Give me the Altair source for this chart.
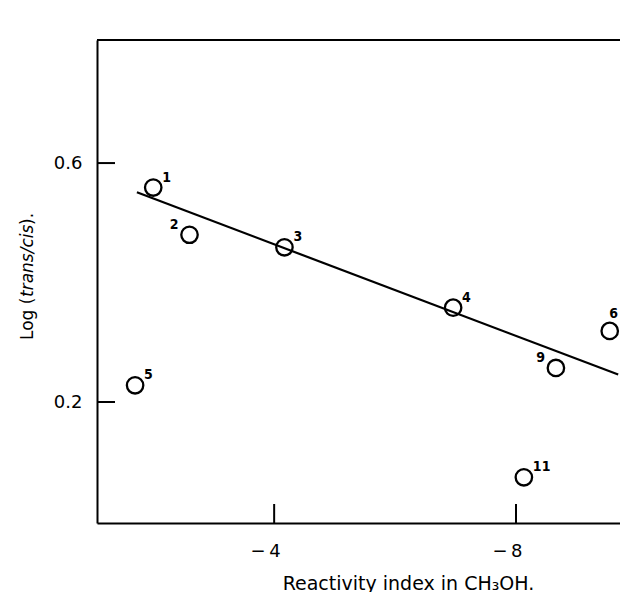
import altair as alt
import pandas as pd

# data
labels = ["1", "2", "3", "4", "5", "6", "9", "11"]
reactivity = [-2.0, -2.6, -4.17, -6.96, -1.70, -9.55, -8.66, -8.13]
log_ratio = [0.559, 0.480, 0.459, 0.358, 0.228, 0.319, 0.257, 0.074]
left_labels = ["2", "9"]
top_labels = ["6"]  # would be cut at the right edge otherwise

fit_x = [-1.73, -9.69]
fit_y = [0.551, 0.246]

x_ticks = [-4, -8]
y_ticks = [0.2, 0.6]

x_domain = [-9.72, -1.07]
y_domain = [-0.0025, 0.806]

W, H = 523, 483
FONT = "DejaVu Sans"

pts = pd.DataFrame({"x": reactivity, "y": log_ratio, "label": labels})
fit = pd.DataFrame({"x": fit_x, "y": fit_y})
xt = pd.DataFrame({"x": x_ticks})
yt = pd.DataFrame({"y": y_ticks})

xs = alt.Scale(domain=x_domain, reverse=True, nice=False, zero=False)
ys = alt.Scale(domain=y_domain, nice=False, zero=False)

x_axis = alt.Axis(values=x_ticks, ticks=False, grid=False, domainColor="black",
                  domainWidth=2, labelFont=FONT, labelFontSize=18, labelColor="black",
                  labelPadding=19, labelOffset=-9,
                  labelExpr="datum.value < 0 ? '\u2212\u2009' + abs(datum.value) : datum.label",
                  title="Reactivity index in CH\u2083OH.", titleFont=FONT, titleFontSize=19,
                  titleFontWeight="normal", titleColor="black",
                  titleBaseline="alphabetic", titleX=311, titleY=66)
y_axis = alt.Axis(values=y_ticks, ticks=False, grid=False, domainColor="black",
                  domainWidth=2, labelFont=FONT, labelFontSize=18, labelColor="black",
                  labelPadding=15, format=".1f", title=None)

base = alt.Chart(pts)

points = base.mark_point(shape="circle", filled=False, color="black",
                         strokeWidth=2.3, size=270, opacity=1).encode(
    x=alt.X("x:Q", scale=xs, axis=x_axis),
    y=alt.Y("y:Q", scale=ys, axis=y_axis),
)

lab_style = dict(font=FONT + " Condensed", fontWeight="bold", fontSize=14, color="black",
                 baseline="middle")
enc = dict(x=alt.X("x:Q", scale=xs), y=alt.Y("y:Q", scale=ys), text="label:N")
right_lab = base.transform_filter(
    ~alt.FieldOneOfPredicate(field="label", oneOf=left_labels + top_labels)
).mark_text(align="left", dx=9, dy=-10, **lab_style).encode(**enc)
left_lab = base.transform_filter(
    alt.FieldOneOfPredicate(field="label", oneOf=left_labels)
).mark_text(align="right", dx=-11, dy=-10, **lab_style).encode(**enc)
top_lab = base.transform_filter(
    alt.FieldOneOfPredicate(field="label", oneOf=top_labels)
).mark_text(align="center", dx=4, dy=-17, **lab_style).encode(**enc)

line = alt.Chart(fit).mark_line(color="black", strokeWidth=2.2).encode(
    x=alt.X("x:Q", scale=xs), y=alt.Y("y:Q", scale=ys))

xtick = alt.Chart(xt).mark_rule(color="black", strokeWidth=2).encode(
    x=alt.X("x:Q", scale=xs), y=alt.value(H), y2=alt.value(H - 19))
ytick = alt.Chart(yt).mark_rule(color="black", strokeWidth=2).encode(
    y=alt.Y("y:Q", scale=ys), x=alt.value(0), x2=alt.value(18))

top = alt.Chart(xt).mark_rule(color="black", strokeWidth=2).encode(
    x=alt.value(0), x2=alt.value(W), y=alt.value(0))

one = alt.Data(values=[{"a": 1}])
tstyle = dict(font=FONT, fontSize=17, color="black", angle=270, align="left",
              baseline="alphabetic")
t1 = alt.Chart(one).mark_text(text="Log (", **tstyle).encode(
    x=alt.value(-64), y=alt.value(300))
t2 = alt.Chart(one).mark_text(text="trans/cis", fontStyle="italic", **tstyle).encode(
    x=alt.value(-64), y=alt.value(257))
t3 = alt.Chart(one).mark_text(text=").", **tstyle).encode(
    x=alt.value(-64), y=alt.value(185))

chart = alt.layer(line, points, right_lab, left_lab, top_lab, xtick, ytick, top,
                  t1, t2, t3).properties(
    width=W, height=H,
    autosize=alt.AutoSizeParams(type="none"),
    padding={"left": 89, "top": 32, "right": 0, "bottom": 69},
    background="white",
).configure_view(stroke=None)

chart.save("out.html", embed_options={"renderer": "svg", "actions": False})
